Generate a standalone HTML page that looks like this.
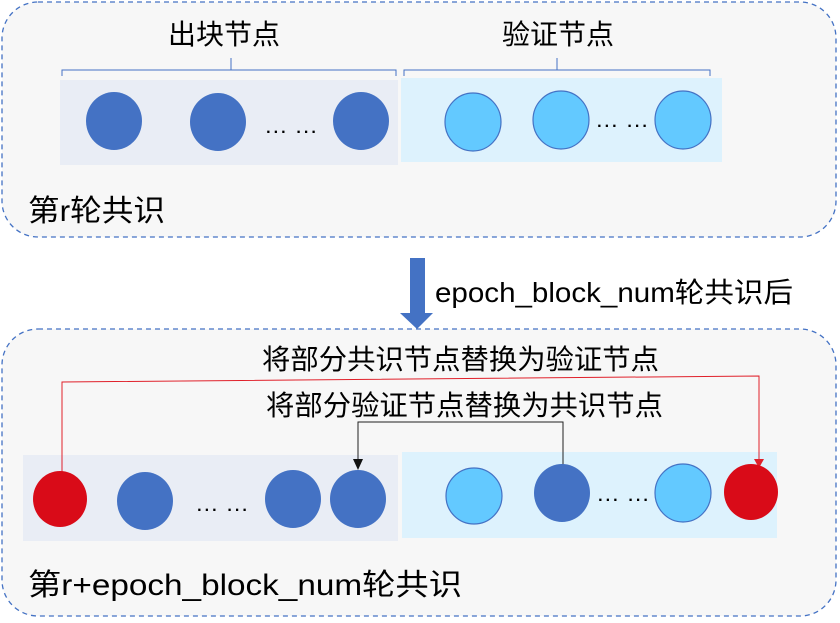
<!DOCTYPE html>
<html><head><meta charset="utf-8"><style>
html,body{margin:0;padding:0;background:#fff;}
svg{display:block;}
text{font-family:"Liberation Sans","Noto Sans CJK SC",sans-serif;fill:#000;}
</style></head><body>
<svg width="840" height="623" viewBox="0 0 840 623" xmlns="http://www.w3.org/2000/svg">
<rect x="2" y="2" width="834" height="235" rx="36" fill="#f7f7f7" stroke="#4472c4" stroke-width="1.3" stroke-dasharray="5,4"/>
<rect x="2" y="329" width="834" height="287" rx="36" fill="#f7f7f7" stroke="#4472c4" stroke-width="1.3" stroke-dasharray="5,4"/>

<!-- top -->
<text x="168" y="44" font-size="28" textLength="112" lengthAdjust="spacingAndGlyphs">出块节点</text>
<text x="502" y="44" font-size="28" textLength="112" lengthAdjust="spacingAndGlyphs">验证节点</text>
<path d="M62,76 V70 H396 V76 M231,70 V58" fill="none" stroke="#4472c4" stroke-width="1"/>
<path d="M404,76 V70 H710 V76 M557,70 V58" fill="none" stroke="#4472c4" stroke-width="1"/>
<rect x="60" y="80" width="338" height="85" fill="#e9edf5"/>
<rect x="401" y="78" width="321" height="84" fill="#ddf2fd"/>
<ellipse cx="114" cy="121" rx="28" ry="29" fill="#4472c4"/>
<ellipse cx="218" cy="122" rx="28" ry="29" fill="#4472c4"/>
<ellipse cx="361" cy="121" rx="28" ry="29" fill="#4472c4"/>
<text x="264" y="133" font-size="22" textLength="54" lengthAdjust="spacingAndGlyphs">… …</text>
<ellipse cx="473" cy="122" rx="28" ry="29" fill="#63c9ff" stroke="#4472c4" stroke-width="1.2"/>
<ellipse cx="561" cy="120" rx="28" ry="29" fill="#63c9ff" stroke="#4472c4" stroke-width="1.2"/>
<ellipse cx="683" cy="120" rx="28" ry="29" fill="#63c9ff" stroke="#4472c4" stroke-width="1.2"/>
<text x="595" y="127" font-size="22" textLength="54" lengthAdjust="spacingAndGlyphs">… …</text>
<text x="28" y="221" font-size="30" textLength="137" lengthAdjust="spacingAndGlyphs">第r轮共识</text>

<!-- arrow -->
<path d="M410,258 H425 V313 H433 L417,329 L400,313 H410 Z" fill="#4472c4"/>
<text x="435" y="302" font-size="28" textLength="358" lengthAdjust="spacingAndGlyphs">epoch_block_num轮共识后</text>

<!-- bottom -->
<text x="262" y="369" font-size="28" textLength="397" lengthAdjust="spacingAndGlyphs">将部分共识节点替换为验证节点</text>
<text x="266" y="415" font-size="28" textLength="397" lengthAdjust="spacingAndGlyphs">将部分验证节点替换为共识节点</text>
<rect x="23" y="455" width="375" height="86" fill="#e9edf5"/>
<rect x="402" y="452" width="375" height="86" fill="#ddf2fd"/>
<polyline points="62,472 62,382 759,376 759,460" fill="none" stroke="#e0202a" stroke-width="1"/>
<path d="M754,459 L764,459 L759,468 Z" fill="#e0202a"/>
<polyline points="563,467 563,422 358,422 358,460" fill="none" stroke="#222" stroke-width="1"/>
<path d="M353,459 L363,459 L358,470 Z" fill="#111"/>
<ellipse cx="60" cy="499" rx="27" ry="28" fill="#d90b18"/>
<ellipse cx="145" cy="501" rx="28" ry="29" fill="#4472c4"/>
<text x="195" y="511" font-size="22" textLength="54" lengthAdjust="spacingAndGlyphs">… …</text>
<ellipse cx="293" cy="499" rx="28" ry="29" fill="#4472c4"/>
<ellipse cx="358" cy="499" rx="28" ry="29" fill="#4472c4"/>
<ellipse cx="474" cy="496" rx="28" ry="28" fill="#63c9ff" stroke="#4472c4" stroke-width="1.2"/>
<ellipse cx="562" cy="493" rx="28" ry="29" fill="#4472c4"/>
<text x="596" y="501" font-size="22" textLength="54" lengthAdjust="spacingAndGlyphs">… …</text>
<ellipse cx="683" cy="493" rx="28" ry="29" fill="#63c9ff" stroke="#4472c4" stroke-width="1.2"/>
<ellipse cx="751" cy="492" rx="27" ry="28" fill="#d90b18"/>
<text x="28" y="595" font-size="30" textLength="434" lengthAdjust="spacingAndGlyphs">第r+epoch_block_num轮共识</text>
</svg>
</body></html>
